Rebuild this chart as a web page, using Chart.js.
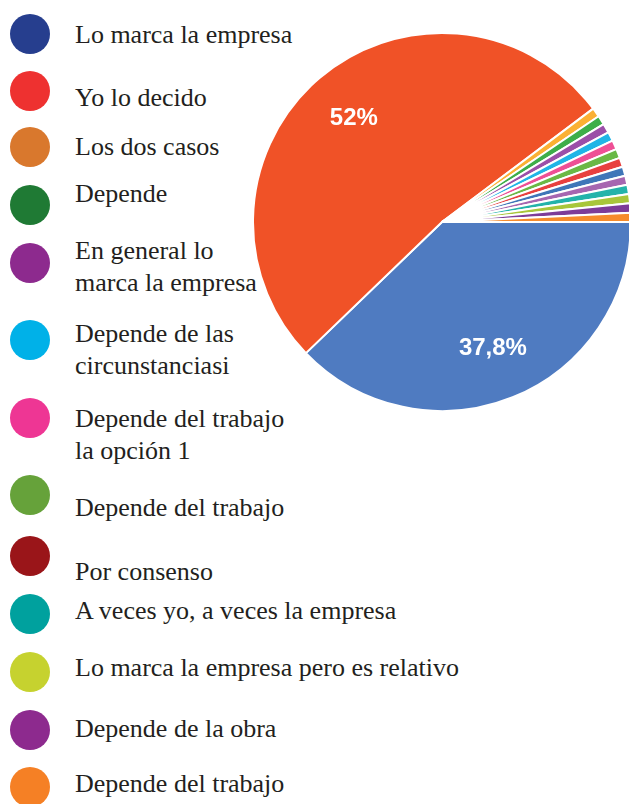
<!DOCTYPE html>
<html>
<head>
<meta charset="utf-8">
<script src="https://cdn.jsdelivr.net/npm/chart.js@4.4.1/dist/chart.umd.min.js"></script>
<style>
  html, body { margin: 0; padding: 0; background: #fff; overflow: hidden; }
  body { width: 629px; height: 804px; position: relative; }
  #pieBox { position: absolute; left: 252px; top: 32px; width: 380px; height: 380px; }
  .dot { position: absolute; left: 10px; width: 40px; height: 40px; border-radius: 50%; }
  .txt { position: absolute; left: 75px; font-family: "Liberation Serif", "Times New Roman", serif;
         font-size: 26px; line-height: 32px; color: #231f20; white-space: nowrap; }
</style>
</head>
<body>
<div id="legend"></div>
<div id="pieBox"><canvas id="pie"></canvas></div>
<script>
// legend (as printed next to the chart)
const legendLabels = [
  ['Lo marca la empresa'],
  ['Yo lo decido'],
  ['Los dos casos'],
  ['Depende'],
  ['En general lo', 'marca la empresa'],
  ['Depende de las', 'circunstanciasi'],
  ['Depende del trabajo', 'la opción 1'],
  ['Depende del trabajo'],
  ['Por consenso'],
  ['A veces yo, a veces la empresa'],
  ['Lo marca la empresa pero es relativo'],
  ['Depende de la obra'],
  ['Depende del trabajo']
];
const legendColors = ['#263e8e', '#ee3130', '#d9782d', '#1f7a34', '#8d2a8e', '#00b1e8', '#ee3694',
                      '#66a23a', '#9a1519', '#00a19e', '#c6d22f', '#8d2a8e', '#f58025'];

// pie slices (responses), clockwise from 3 o'clock
const sliceLabels = ['Lo marca la empresa', 'Yo lo decido', 'Los dos casos', 'Depende',
  'En general lo marca la empresa', 'Depende de las circunstanciasi', 'Depende del trabajo la opción 1',
  'Depende del trabajo', 'Por consenso', 'A veces yo, a veces la empresa',
  'Lo marca la empresa pero es relativo', 'Depende de la obra', 'Depende del trabajo', '', ''];
const sliceValues = [48, 66, 1, 1, 1, 1, 1, 1, 1, 1, 1, 1, 1, 1, 1];
const sliceColors = ['#4f7bc1', '#f05227', '#fbb034', '#3dae49', '#9b4fa8', '#20b5e6', '#ee4f95',
                     '#6ab845', '#e8403f', '#3f76b8', '#a666b0', '#23b3aa', '#a8c63a', '#7d3c98', '#f68b2c'];

// legend layout: circle centres and first-line baselines
const dotY = [34, 91, 147, 205, 263, 340, 418, 495, 556, 614, 672, 730, 787];
const baseY = [44, 107, 156, 203, 260, 343, 428, 517, 581, 620, 677, 738, 793];

const legendEl = document.getElementById('legend');
legendLabels.forEach((lines, i) => {
  const dot = document.createElement('div');
  dot.className = 'dot';
  dot.style.top = (dotY[i] - 20) + 'px';
  dot.style.background = legendColors[i];
  legendEl.appendChild(dot);
  const t = document.createElement('div');
  t.className = 'txt';
  t.style.top = (baseY[i] - 25) + 'px';
  t.innerHTML = lines.join('<br>');
  legendEl.appendChild(t);
});

// percentage labels inside the large slices
const pctLabels = {
  id: 'pctLabels',
  afterDatasetsDraw(chart) {
    const ctx = chart.ctx;
    const total = sliceValues.reduce((a, b) => a + b, 0);
    const arcs = chart.getDatasetMeta(0).data;
    ctx.save();
    ctx.fillStyle = '#fff';
    ctx.font = 'bold 24px "Liberation Sans", Arial, sans-serif';
    ctx.textAlign = 'center';
    ctx.textBaseline = 'middle';
    arcs.forEach((arc, i) => {
      const pct = sliceValues[i] / total * 100;
      if (pct < 5) return;
      const mid = (arc.startAngle + arc.endAngle) / 2;
      const r = arc.outerRadius * 0.72;
      let s = pct.toFixed(1).replace(/\.0$/, '').replace('.', ',') + '%';
      ctx.fillText(s, arc.x + Math.cos(mid) * r, arc.y + Math.sin(mid) * r);
    });
    ctx.restore();
  }
};

new Chart(document.getElementById('pie'), {
  type: 'pie',
  data: {
    labels: sliceLabels,
    datasets: [{
      data: sliceValues,
      backgroundColor: sliceColors,
      borderColor: '#ffffff',
      borderWidth: 2,
      hoverOffset: 0
    }]
  },
  options: {
    responsive: true,
    maintainAspectRatio: false,
    animation: false,
    rotation: 90,
    layout: { padding: 0 },
    plugins: { legend: { display: false }, tooltip: { enabled: false } }
  },
  plugins: [pctLabels]
});
</script>
</body>
</html>
